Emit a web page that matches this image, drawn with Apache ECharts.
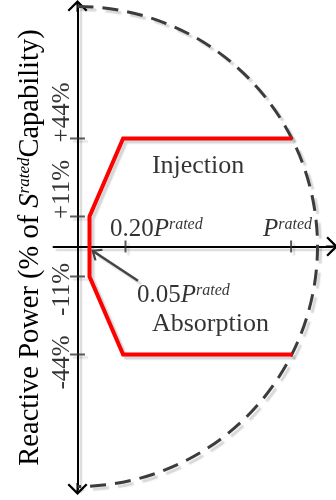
<!DOCTYPE html>
<html><head><meta charset="utf-8">
<script src="https://cdn.jsdelivr.net/npm/echarts@6/dist/echarts.min.js"></script>
<style>html,body{margin:0;padding:0;background:#fff}#c{width:336px;height:500px}</style>
</head><body><div id="c"></div>
<script>
// Values expressed as fractions of S_rated (radius of the capability circle)
const sRated = 1.0;
const qTicks = [0.45, 0.125, -0.125, -0.45];
const qTickLabels = ['+44%', '+11%', '-11%', '-44%'];
const pTicks = [0.20, 0.89];
// red reactive-power capability boundary
const boundaryP = [0.895, 0.19, 0.05, 0.05, 0.19, 0.895];
const boundaryQ = [0.45, 0.45, 0.125, -0.125, -0.45, -0.45];
// annotation arrow (tail -> head), pointing at 0.05 P_rated
const arrowTail = [0.252, -0.143];
const arrowHead = [0.075, -0.026];

const SERIF = '"Liberation Serif","Times New Roman",serif';
const SHADOW = {shadowColor:'rgba(0,0,0,0.17)', shadowOffsetX:3, shadowOffsetY:3, shadowBlur:1.5};
const CHEVRON = 'path://M10,0 L20,10 L18.4,11.6 L10,3.2 L1.6,11.6 L0,10 Z M9,1 L11,1 L11,12 L9,12 Z';
const ARROWHEAD = 'path://M10,0 L20,10 L18,12 L10,4 L2,12 L0,10 Z M8.6,1 L11.4,1 L11.4,12 L8.6,12 Z';
const supRich = {
  t:{fontFamily:SERIF,fontSize:25,color:'#000'},
  i:{fontFamily:SERIF,fontSize:25,fontStyle:'italic',color:'#000'},
  s:{fontFamily:SERIF,fontSize:16,fontStyle:'italic',color:'#000',verticalAlign:'top'},
  big:{fontFamily:SERIF,fontSize:26,color:'#000'}
};
const notes = [
  {value:[0.31, 0.335], text:'{big|Injection}'},
  {value:[0.31, -0.323], text:'{big|Absorption}'},
  {value:[0.135, 0.071], text:'{t|0.20}{i|P}{s|rated}'},
  {value:[0.773, 0.071], text:'{i|P}{s|rated}'},
  {value:[0.248, -0.202], text:'{t|0.05}{i|P}{s|rated}'}
];
// screen shift [dx, dy] of each rotated Q tick label relative to its tick
const qLabelShift = [[-15.5, -26], [-15.5, -27], [-15.5, 13], [-15.5, 8]];

const chart = echarts.init(document.getElementById('c'), null, {renderer:'canvas'});
chart.setOption({
  animation:false,
  backgroundColor:'#fff',
  grid:{left:53.5, top:6, width:278.4, height:483, containLabel:false, outerBoundsMode:'none'},
  xAxis:{type:'value', min:-0.1, max:1.06,
    axisLine:{onZero:true, symbol:['none', CHEVRON], symbolSize:[20,12],
      lineStyle:Object.assign({color:'#000', width:2}, SHADOW)},
    axisTick:{show:false}, axisLabel:{show:false}, splitLine:{show:false}},
  yAxis:{type:'value', min:-1.0104, max:1.002,
    name:'Reactive Power (% of {si|S}{ss|rated}Capability)',
    nameLocation:'middle', nameRotate:90, nameGap:8, nameMoveOverlap:false,
    nameTextStyle:{fontFamily:SERIF, fontSize:28.5, color:'#000',
      rich:{si:{fontFamily:SERIF,fontSize:28.5,fontStyle:'italic',color:'#000'},
            ss:{fontFamily:SERIF,fontSize:17,fontStyle:'italic',color:'#000',verticalAlign:'top'}}},
    axisLine:{onZero:true, symbol:[CHEVRON, CHEVRON], symbolSize:[20,12],
      lineStyle:Object.assign({color:'#000', width:2}, SHADOW)},
    axisTick:{show:false}, axisLabel:{show:false}, splitLine:{show:false}
  },
  series:[
    {type:'custom', name:'S rated', silent:true, z:3,
      data:[[0, 0, sRated]], encode:{x:0, y:1},
      renderItem:function(params, api){
        const c = api.coord([api.value(0), api.value(1)]);
        const r = api.size([api.value(2), 0])[0];
        return {type:'arc', shape:{cx:c[0], cy:c[1], r:r, startAngle:-Math.PI/2, endAngle:Math.PI/2, clockwise:true},
          style:Object.assign({fill:'none', stroke:'#3c3c3c', lineWidth:3, lineDash:[16,9]}, SHADOW)};
      }},
    {type:'line', name:'boundary', silent:true, z:4, symbol:'none',
      data:boundaryP.map(function(p, j){ return [p, boundaryQ[j]]; }),
      lineStyle:Object.assign({color:'#ff0000', width:4, join:'miter'}, SHADOW),
      markLine:{silent:true, symbol:['none', ARROWHEAD], symbolSize:[14,10], label:{show:false},
        lineStyle:Object.assign({color:'#444', width:2.5, type:'solid'}, SHADOW),
        data:[[{coord:arrowTail}, {coord:arrowHead}]]}},
    {type:'scatter', name:'qticks', silent:true, z:5, symbol:'rect', symbolSize:[15,2],
      itemStyle:Object.assign({color:'#333'}, SHADOW),
      data:qTicks.map(function(q, j){
        const s = qLabelShift[j];
        // label offset is applied in the rotated text frame
        return {value:[0, q], label:{formatter:qTickLabels[j], offset:[-s[1], s[0]]}};
      }),
      label:{show:true, position:'inside', rotate:90, align:'center', verticalAlign:'middle',
        fontFamily:SERIF, fontSize:25, color:'#000'}},
    {type:'scatter', name:'pticks', silent:true, z:5, symbol:'rect', symbolSize:[2,12],
      itemStyle:Object.assign({color:'#333'}, SHADOW),
      data:pTicks.map(function(p){ return [p, 0]; })},
    {type:'scatter', name:'notes', silent:true, z:6, symbolSize:0,
      data:notes.map(function(n){ return {value:n.value, label:{formatter:n.text}}; }),
      label:{show:true, position:'inside', align:'left', verticalAlign:'middle', rich:supRich}}
  ]
});
</script></body></html>
